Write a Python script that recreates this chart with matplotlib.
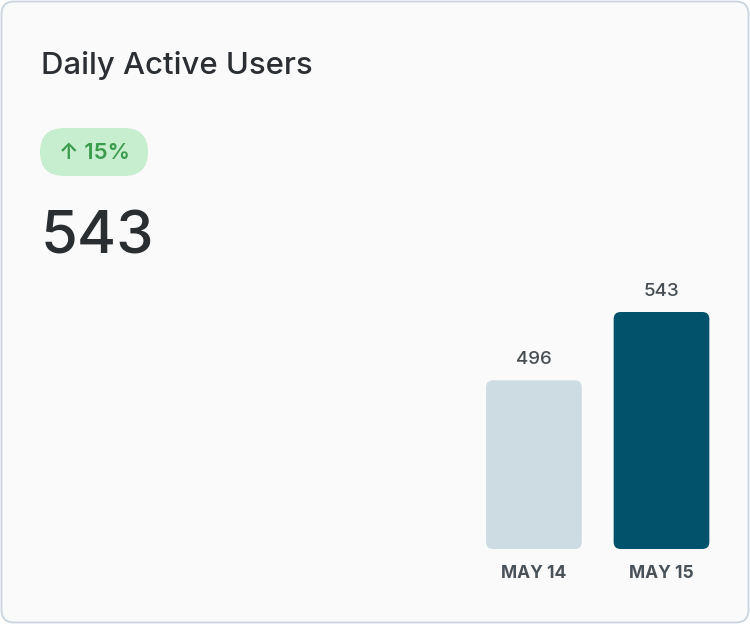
import matplotlib
matplotlib.use("Agg")
import matplotlib.pyplot as plt
from matplotlib.patches import FancyBboxPatch
from matplotlib.transforms import IdentityTransform

# ---- data ----
categories = ["MAY 14", "MAY 15"]
values = [496, 543]
title = "Daily Active Users"
kpi_value = "543"
change_label = "↑ 15%"

bar_colors = ["#cddbe3", "#02526b"]

W, H = 750, 624
DPI = 100
plt.rcParams['font.family'] = ['Inter', 'DejaVu Sans']

fig = plt.figure(figsize=(W / DPI, H / DPI), dpi=DPI, facecolor="white")

def fx(px):
    return px / W

def fy(py):
    return 1 - py / H

# card
card = FancyBboxPatch((fx(1.5), fy(622.5)), fx(747), (621) / H,
                      boxstyle="round,pad=0,rounding_size=0.017",
                      transform=fig.transFigure, facecolor="#fafafa",
                      edgecolor="#c9d4dd", linewidth=1.3, mutation_aspect=W / H,
                      zorder=-10)
fig.patches.append(card)

# title
fig.text(fx(41), fy(74), title, fontsize=22.4, color="#2b2f33",
         ha="left", va="baseline", fontweight="medium")

# badge
badge = FancyBboxPatch((fx(40), fy(176)), fx(108), 48 / H,
                       boxstyle="round,pad=0,rounding_size=0.032",
                       transform=fig.transFigure, facecolor="#c7eecf",
                       edgecolor="none", mutation_aspect=W / H, zorder=-5)
fig.patches.append(badge)
fig.text(fx(94), fy(153), change_label, fontsize=16, color="#3b9c4d",
         ha="center", va="center", fontweight="semibold")

# big number
fig.text(fx(41), fy(253), kpi_value, fontsize=43, color="#2a2e31",
         ha="left", va="baseline", fontweight="medium")

# bar axes
ax_left, ax_right = 470.1, 725.3
ax_bottom, ax_top = 549, 312
ax = fig.add_axes([fx(ax_left), fy(ax_bottom), fx(ax_right - ax_left),
                   (ax_bottom - ax_top) / H], zorder=2)
ax.set_facecolor("none")
x = list(range(len(categories)))
bars = ax.bar(x, values, width=0.75, color=bar_colors, bottom=0)
ax.set_xlim(-0.5, len(categories) - 0.5)
ax.set_ylim(380, max(values))
for s in ax.spines.values():
    s.set_visible(False)
ax.set_yticks([])
ax.set_xticks(x)
ax.set_xticklabels(categories, fontsize=12.5, fontweight="bold", color="#4a5259")
ax.tick_params(axis="x", length=0, pad=11.5)

fig.canvas.draw()
for rect, col in zip(bars, bar_colors):
    bb = rect.get_window_extent()
    y0 = max(bb.y0, ax.get_window_extent().y0)
    rect.set_visible(False)
    p = FancyBboxPatch((bb.x0, y0), bb.width, bb.y1 - y0,
                       boxstyle="round,pad=0,rounding_size=7",
                       transform=IdentityTransform(), facecolor=col,
                       edgecolor="none", zorder=1)
    fig.patches.append(p)

for xi, v in zip(x, values):
    ax.annotate(f"{v}", (xi, v), xytext=(0, 16), textcoords="offset pixels",
                ha="center", va="baseline", fontsize=13.5, color="#454d53",
                fontweight="medium", annotation_clip=False)

fig.savefig("out.png", dpi=DPI, facecolor="white")
